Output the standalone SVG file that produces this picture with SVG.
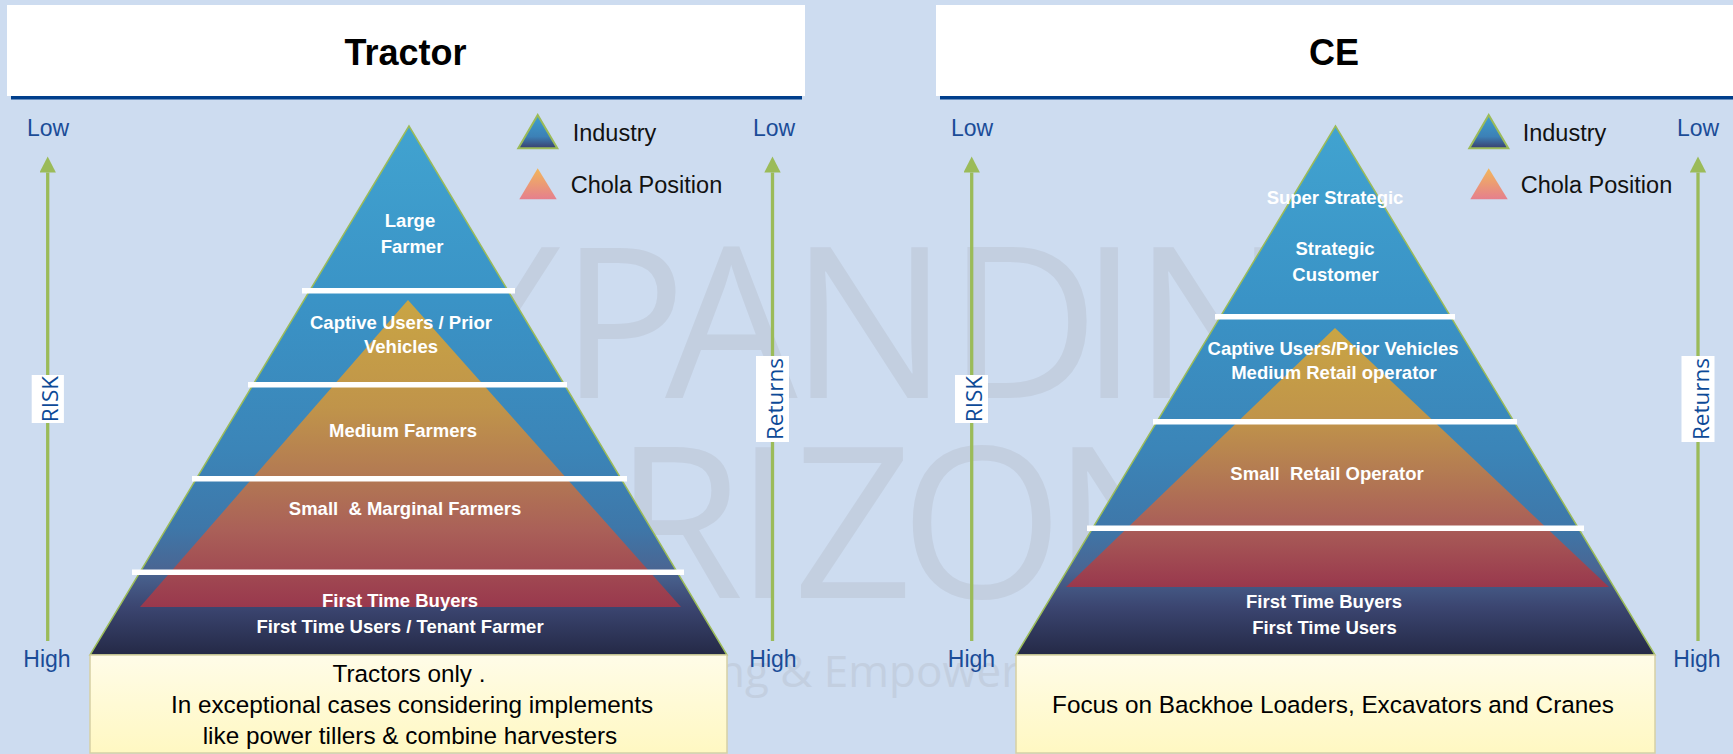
<svg xmlns="http://www.w3.org/2000/svg" width="1733" height="754" viewBox="0 0 1733 754">
<style>
.title{font-family:"Liberation Sans",Arial,sans-serif;font-weight:bold;font-size:36px;fill:#000;text-anchor:middle}
.lh{font-family:"Liberation Sans",Arial,sans-serif;font-size:23px;fill:#1b4c98;text-anchor:middle}
.leg{font-family:"Liberation Sans",Arial,sans-serif;font-size:23.5px;fill:#111}
.axis{font-family:"Open Sans","DejaVu Sans",sans-serif;font-size:22.5px;fill:#0d4a97;text-anchor:middle}
.pt{font-family:"Liberation Sans",Arial,sans-serif;font-weight:bold;font-size:18.5px;fill:#fff;text-anchor:middle;white-space:pre}
.bt{font-family:"Liberation Sans",Arial,sans-serif;font-size:24.3px;fill:#000;text-anchor:middle}
.wm{font-family:"Open Sans","DejaVu Sans",sans-serif;fill:#c3cfe0}
.sep{fill:#fff}
.axisline{stroke:#9bbb59;stroke-width:3.3;fill:none;marker-end:url(#head)}
.lblbox{fill:#fff}
.pyr{stroke:#9bbb59;stroke-width:1.5}
.ybox{fill:url(#yel);stroke:#d6d0a4;stroke-width:1.5}
</style>
<defs>
<linearGradient id="blue" gradientUnits="userSpaceOnUse" x1="0" y1="126" x2="0" y2="655">
<stop offset="0" stop-color="#41a3d0"/>
<stop offset="0.33" stop-color="#3a93c6"/>
<stop offset="0.61" stop-color="#3b85b8"/>
<stop offset="0.76" stop-color="#3e77a9"/>
<stop offset="0.84" stop-color="#4a6592"/>
<stop offset="0.91" stop-color="#3b4570"/>
<stop offset="1" stop-color="#242946"/>
</linearGradient>
<linearGradient id="chola" x1="0" y1="0" x2="0" y2="1">
<stop offset="0" stop-color="#c9a544"/>
<stop offset="0.35" stop-color="#c0944a"/>
<stop offset="0.55" stop-color="#b47c52"/>
<stop offset="0.75" stop-color="#aa6058"/>
<stop offset="1" stop-color="#99384d"/>
</linearGradient>
<linearGradient id="legInd" x1="0" y1="0" x2="0" y2="1">
<stop offset="0" stop-color="#3fa0cf"/>
<stop offset="0.65" stop-color="#3c80b6"/>
<stop offset="1" stop-color="#3a3f6d"/>
</linearGradient>
<linearGradient id="legChola" x1="0" y1="0" x2="0" y2="1">
<stop offset="0" stop-color="#f2b75a"/>
<stop offset="1" stop-color="#e57f8d"/>
</linearGradient>
<linearGradient id="yel" x1="0" y1="0" x2="0" y2="1">
<stop offset="0" stop-color="#fffce8"/>
<stop offset="1" stop-color="#fff8c2"/>
</linearGradient>
<marker id="head" markerUnits="userSpaceOnUse" markerWidth="17" markerHeight="17" refX="0" refY="8.2" orient="auto" viewBox="0 0 17 17">
<path d="M0,0 L16,8.2 L0,16.4 Z" fill="#9bbb59"/>
</marker>
</defs>

<rect x="0" y="0" width="1733" height="754" fill="#cddcf0"/>

<g id="watermark">
<text class="wm" font-size="210" y="398" x="335 443 560 665 790 947 1080 1133 1278">EXPANDING</text>
<text class="wm" font-size="210" y="598" x="310 460 614 735 793 900 1052 1188">HORIZONS</text>
<text class="wm" font-size="44" x="593" y="687">Enabling &amp; Empowering</text>
</g>

<g id="tractor-title">
<rect x="7" y="5" width="798" height="91" fill="#fff"/>
<rect x="11" y="96" width="791" height="3.5" fill="#003f8c"/>
<text class="title" x="405.5" y="65">Tractor</text>
</g>

<g id="ce-title">
<rect x="936" y="5" width="800" height="91" fill="#fff"/>
<rect x="940" y="96" width="795" height="3.5" fill="#003f8c"/>
<text class="title" x="1334" y="65">CE</text>
</g>

<g id="connectors">
<line class="axisline" x1="47.7" y1="641" x2="47.7" y2="172.5"/>
<line class="axisline" x1="772.5" y1="641" x2="772.5" y2="172.5"/>
<line class="axisline" x1="971.7" y1="641" x2="971.7" y2="172.5"/>
<line class="axisline" x1="1698" y1="641" x2="1698" y2="172.5"/>
</g>

<g id="tractor-risk-axis">
<text class="lh" x="48" y="136">Low</text>
<text class="lh" x="47" y="667">High</text>
<rect class="lblbox" x="31.7" y="375" width="32.2" height="48"/>
<text class="axis" transform="translate(57.5,399) rotate(-90)">RISK</text>
</g>
<g id="tractor-returns-axis">
<text class="lh" x="774" y="136">Low</text>
<text class="lh" x="773" y="667">High</text>
<rect class="lblbox" x="756" y="356" width="33" height="86"/>
<text class="axis" transform="translate(783,399) rotate(-90)">Returns</text>
</g>
<g id="ce-risk-axis">
<text class="lh" x="972" y="136">Low</text>
<text class="lh" x="971.5" y="667">High</text>
<rect class="lblbox" x="955" y="375" width="33" height="48"/>
<text class="axis" transform="translate(981.5,399) rotate(-90)">RISK</text>
</g>
<g id="ce-returns-axis">
<text class="lh" x="1698" y="136">Low</text>
<text class="lh" x="1697" y="667">High</text>
<rect class="lblbox" x="1681.5" y="356" width="33" height="86"/>
<text class="axis" transform="translate(1708.5,399) rotate(-90)">Returns</text>
</g>

<g id="tractor-legend">
<polygon points="537.7,115 518.3,148.3 557.3,148.3" fill="url(#legInd)" stroke="#9bbb59" stroke-width="2"/>
<text class="leg" x="572.7" y="140.5">Industry</text>
<polygon points="537.7,168.3 519.3,199.3 556.7,199.3" fill="url(#legChola)"/>
<text class="leg" x="570.7" y="193.3">Chola Position</text>
</g>
<g id="ce-legend">
<polygon points="1488.7,115 1469.3,148.3 1508.3,148.3" fill="url(#legInd)" stroke="#9bbb59" stroke-width="2"/>
<text class="leg" x="1522.7" y="140.5">Industry</text>
<polygon points="1488.7,168.3 1470.3,199.3 1507.7,199.3" fill="url(#legChola)"/>
<text class="leg" x="1520.7" y="193.3">Chola Position</text>
</g>

<g id="tractor-pyramid">
<polygon class="pyr" points="409,126 90,655 727,655" fill="url(#blue)"/>
<polygon points="408,300 140,607 681,607" fill="url(#chola)"/>
<rect class="sep" x="302" y="288" width="213" height="5.5"/>
<rect class="sep" x="248" y="382" width="319" height="5.5"/>
<rect class="sep" x="192" y="476" width="435" height="5.5"/>
<rect class="sep" x="132" y="569.5" width="552" height="5.5"/>
<text class="pt" x="410" y="227">Large</text>
<text class="pt" x="412" y="253">Farmer</text>
<text class="pt" x="401" y="329">Captive Users / Prior</text>
<text class="pt" x="401" y="353">Vehicles</text>
<text class="pt" x="403" y="437">Medium Farmers</text>
<text class="pt" x="405" y="515">Small  &amp; Marginal Farmers</text>
<text class="pt" x="400" y="607">First Time Buyers</text>
<text class="pt" x="400" y="633">First Time Users / Tenant Farmer</text>
</g>
<g id="tractor-note">
<rect class="ybox" x="90" y="655" width="637" height="98"/>
<text class="bt" x="409" y="682">Tractors only .</text>
<text class="bt" x="412" y="713">In exceptional cases considering implements</text>
<text class="bt" x="410" y="744">like power tillers &amp; combine harvesters</text>
</g>

<g id="ce-pyramid">
<polygon class="pyr" points="1335.5,126 1016,655 1655,655" fill="url(#blue)"/>
<polygon points="1335,328 1066,587 1609,587" fill="url(#chola)"/>
<rect class="sep" x="1215" y="314" width="240" height="5.5"/>
<rect class="sep" x="1153" y="419" width="364" height="5.5"/>
<rect class="sep" x="1087" y="525.5" width="497" height="5.5"/>
<text class="pt" x="1335" y="204">Super Strategic</text>
<text class="pt" x="1335" y="255">Strategic</text>
<text class="pt" x="1335.5" y="281">Customer</text>
<text class="pt" x="1333" y="355">Captive Users/Prior Vehicles</text>
<text class="pt" x="1334" y="379">Medium Retail operator</text>
<text class="pt" x="1327" y="480">Small  Retail Operator</text>
<text class="pt" x="1324" y="608">First Time Buyers</text>
<text class="pt" x="1324.5" y="634">First Time Users</text>
</g>
<g id="ce-note">
<rect class="ybox" x="1016" y="655" width="639" height="98"/>
<text class="bt" x="1333" y="713">Focus on Backhoe Loaders, Excavators and Cranes</text>
</g>
</svg>
